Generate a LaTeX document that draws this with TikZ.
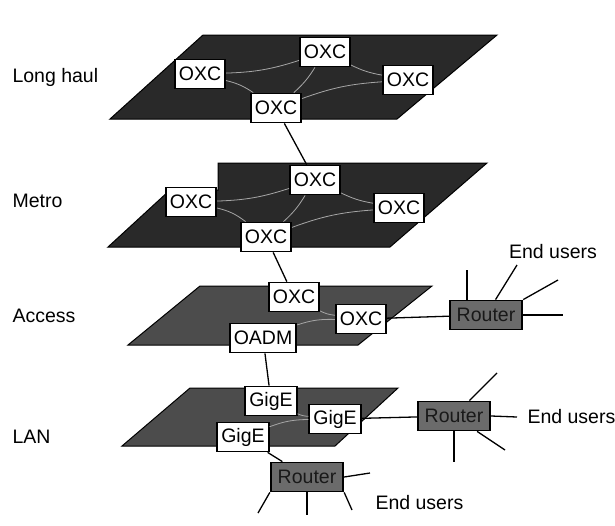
\documentclass[tikz,border=0pt]{standalone}
\usepackage{fontspec}
\setmainfont{Liberation Sans}
\usepackage{xcolor}
\usepackage{tikz}
\usetikzlibrary{
	arrows.meta,
	positioning
}
\tikzset{
	layer/.style={draw=black, line width=1pt, fill=black!84},
	lowlayer/.style={layer, fill=black!70},
	box/.style={draw, line width=1.8pt, fill=white, inner xsep=4pt, minimum height=29pt},
	router/.style={box, fill=black!58, text=black!90, inner xsep=7pt},
	link/.style={draw=black!35, line width=0.8pt},
	wire/.style={line width=1.3pt}
}

\begin{document}
\begin{tikzpicture}[x=1pt,y=-1pt,every node/.style={font=\fontsize{19.5}{22}\selectfont}]
			\useasboundingbox (0,0) rectangle (615,525);
			% the four network layers
			\draw[layer] (110,119) -- (397,119) -- (497,35) -- (203,35) -- cycle;
			\draw[layer] (108,247) -- (390,247) -- (487,163) -- (218,163) -- (218,190) -- (170,190) -- cycle;
			\draw[lowlayer] (128,345) -- (358,345) -- (432,286) -- (200,286) -- cycle;
			\draw[lowlayer] (122,446) -- (335,446) -- (398,388) -- (190,388) -- cycle;
			
			\node[anchor=west] (lhlabel) at (9,77) {Long haul};
			\node[anchor=west] (mlabel) at (9,201) {Metro};
			\node[anchor=west] (alabel) at (9,316) {Access};
			\node[anchor=west] (llabel) at (9,437) {LAN};
			
			% long haul
			\node[box] (lhA) at (200,74) {OXC};
			\node[box] (lhB) at (325,52) {OXC};
			\node[box] (lhC) at (408,80) {OXC};
			\node[box] (lhD) at (276,108) {OXC};
			\draw[link] (lhA) to[bend right=8] (lhB);
			\draw[link] (lhB) to[bend right=8] (lhC);
			\draw[link] (lhD) to[bend left=8] (lhC);
			\draw[link] (lhA) to[bend left=10] (lhD);
			\draw[link] (lhB) to[bend left=8] (lhD);
			
			% metro
			\node[box] (mA) at (191,202) {OXC};
			\node[box] (mB) at (315,180) {OXC};
			\node[box] (mC) at (399,208) {OXC};
			\node[box] (mD) at (266,237) {OXC};
			\draw[link] (mA) to[bend right=8] (mB);
			\draw[link] (mB) to[bend right=8] (mC);
			\draw[link] (mD) to[bend left=8] (mC);
			\draw[link] (mA) to[bend left=12] (mD);
			\draw[link] (mB) to[bend left=8] (mD);
			
			% access
			\node[box] (aA) at (294,297) {OXC};
			\node[box] (aB) at (361,319) {OXC};
			\node[box] (aC) at (263,338) {OADM};
			\node[router] (aR) at (486,315) {Router};
			\draw[link] (aA) to[bend right=10] (aB);
			\draw[link] (aC) to[bend left=10] (aB);
			
			% LAN
			\node[box] (lA) at (271,401) {GigE};
			\node[box] (lB) at (335,419) {GigE};
			\node[box] (lC) at (243,437) {GigE};
			\node[router] (lR) at (454,416) {Router};
			\node[router] (lS) at (307,477) {Router};
			\draw[link] (lA) to[bend right=10] (lB);
			\draw[link] (lC) to[bend left=10] (lB);
			
			% between the layers
			\draw[wire] (lhD) -- (mB);
			\draw[wire] (mD) -- (aA);
			\draw[wire] (aC) -- (lA);
			\draw[wire] (aB) -- (aR);
			\draw[wire] (lB) -- (lR);
			\draw[wire] (lC) -- (lS);
			
			% end users
			\coordinate (au1) at (467,270);
			\coordinate (au2) at (517,265);
			\coordinate (au3) at (558,280);
			\coordinate (au4) at (563,315);
			\draw[wire] (aR.north -| au1) -- (au1);
			\draw[wire] (aR) -- (au2);
			\draw[wire] (aR.north east) -- (au3);
			\draw[wire] (aR.east) -- (au4);
			\node (aulabel) at (553,252) {End users};
			
			\coordinate (lu1) at (497,373);
			\coordinate (lu2) at (517,417);
			\coordinate (lu3) at (505,450);
			\coordinate (lu4) at (454,462);
			\draw[wire] (lR) -- (lu1);
			\draw[wire] (lR.east) -- (lu2);
			\draw[wire] (lR) -- (lu3);
			\draw[wire] (lR) -- (lu4);
			\node[anchor=west] (lulabel) at (524,417) {End users};
			
			\coordinate (su1) at (370,473);
			\coordinate (su2) at (258,513);
			\coordinate (su3) at (307,515);
			\coordinate (su4) at (352,510);
			\draw[wire] (lS.east) -- (su1);
			\draw[wire] (lS.south west) -- (su2);
			\draw[wire] (lS) -- (su3);
			\draw[wire] (lS.south east) -- (su4);
			\node[anchor=west] (sulabel) at (372,503) {End users};
		\end{tikzpicture}
\end{document}
